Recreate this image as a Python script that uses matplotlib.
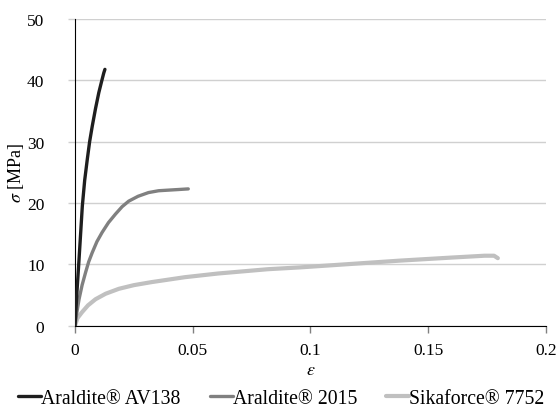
import numpy as np
import matplotlib
matplotlib.use("Agg")
import matplotlib.pyplot as plt

plt.rcParams['font.family'] = ['Liberation Serif', 'DejaVu Serif']
plt.rcParams['mathtext.fontset'] = 'stix'

# strain / stress
av138_eps = [0.0, 0.0008, 0.0017, 0.0031, 0.0041, 0.0052, 0.0062, 0.0073, 0.0087, 0.0101, 0.0112, 0.0122, 0.0127]
av138_sig = [0.0, 5.4, 10.8, 19.5, 23.7, 27.1, 30.0, 32.5, 35.4, 38.0, 39.7, 41.2, 41.8]

a2015_eps = [0.0, 0.0008, 0.0017, 0.0030, 0.0045, 0.0058, 0.0073, 0.0093, 0.0115, 0.0142,
             0.0172, 0.0200, 0.0228, 0.0268, 0.0312, 0.0355, 0.0397, 0.0440, 0.0481]
a2015_sig = [0.0, 2.2, 4.3, 6.6, 8.7, 10.4, 11.9, 13.7, 15.2, 16.8,
             18.2, 19.4, 20.3, 21.1, 21.7, 22.0, 22.1, 22.2, 22.3]

sika_eps = [0.0, 0.0010, 0.0030, 0.0055, 0.0087, 0.0130, 0.0186, 0.0250, 0.0326, 0.0467,
            0.0608, 0.0819, 0.0957, 0.1150, 0.1380, 0.1600, 0.1740, 0.1780, 0.1796]
sika_sig = [0.0, 1.2, 2.2, 3.3, 4.3, 5.2, 6.0, 6.6, 7.1, 7.9,
            8.5, 9.2, 9.5, 10.0, 10.6, 11.1, 11.4, 11.4, 11.0]

x_ticks = [0, 0.05, 0.1, 0.15, 0.2]
x_tick_labels = ["0", "0.05", "0.1", "0.15", "0.2"]
y_ticks = [0, 10, 20, 30, 40, 50]


def main():
    fig = plt.figure(figsize=(5.57, 4.10), dpi=100)
    ax = fig.add_axes([0.1347, 0.2034, 0.8453, 0.7476])

    line_kw = dict(solid_capstyle="round", solid_joinstyle="round")
    ax.plot(av138_eps, av138_sig, color="#1e1e1e", linewidth=2.4,
            label="Araldite® AV138", zorder=4, **line_kw)
    ax.plot(a2015_eps, a2015_sig, color="#808080", linewidth=2.4,
            label="Araldite® 2015", zorder=3, **line_kw)
    ax.plot(sika_eps, sika_sig, color="#c0c0c0", linewidth=3.0,
            label="Sikaforce® 7752", zorder=2, **line_kw)

    ax.set_xlim(0, 0.2)
    ax.set_ylim(0, 50)
    ax.set_xticks(x_ticks)
    ax.set_xticklabels(x_tick_labels)
    ax.set_yticks(y_ticks)

    ax.yaxis.grid(True, color="#d0d0d0", linewidth=1.0)
    ax.set_axisbelow(True)
    for side in ("top", "right"):
        ax.spines[side].set_visible(False)
    ax.spines["left"].set_color("black")
    ax.spines["bottom"].set_color("black")
    ax.tick_params(axis="x", direction="out", length=5, width=1, color="#808080",
                   labelsize=12.5, pad=7)
    ax.tick_params(axis="y", direction="out", length=5, width=1, color="#d0d0d0",
                   labelsize=12.5, pad=17)

    ax.set_xlabel(r"$\varepsilon$", fontsize=13, labelpad=2)
    ax.set_ylabel(r"$\sigma$ [MPa]", fontsize=13, labelpad=1)

    ax.legend(loc="center", bbox_to_anchor=(0.505, 0.025), bbox_transform=fig.transFigure,
              ncol=3, frameon=False, fontsize=14.2, handlelength=1.15, handletextpad=0.0,
              columnspacing=1.5, borderaxespad=0, borderpad=0)

    fig.savefig("out.png", dpi=100)


if __name__ == "__main__":
    main()
